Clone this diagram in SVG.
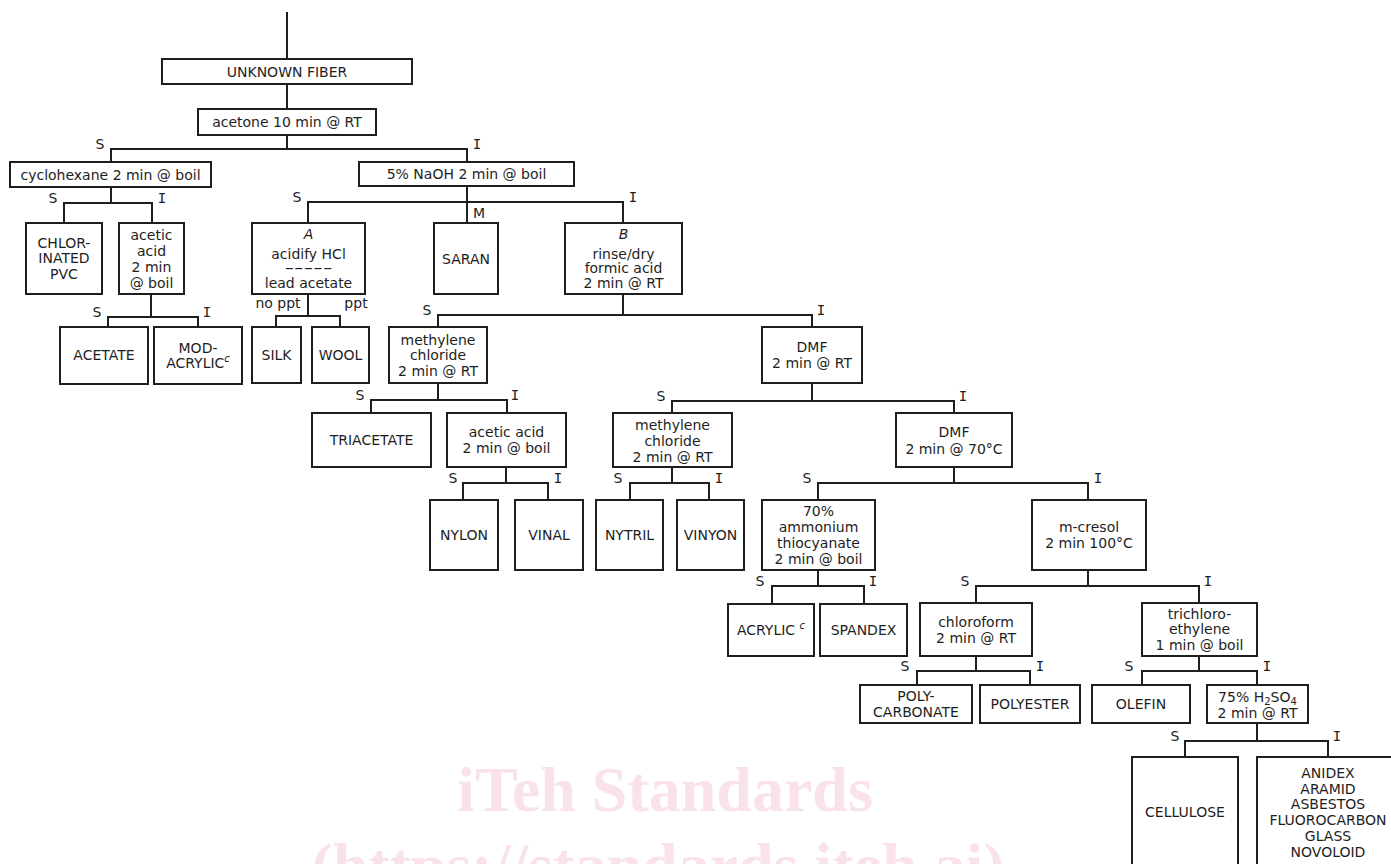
<svg xmlns="http://www.w3.org/2000/svg" width="1391" height="864" viewBox="0 0 1391 864">
<style>
.box{fill:#fff;stroke:#1e1e1e;stroke-width:2}
.ln{fill:none;stroke:#1e1e1e;stroke-width:2}
.t{font-family:"DejaVu Sans",Verdana,sans-serif;font-size:14px;text-anchor:middle;fill:#1e1e1e}
.it{font-style:italic}
.lb{font-family:"DejaVu Sans",Verdana,sans-serif;font-size:14px;text-anchor:middle;fill:#1e1e1e}
.lbi{font-family:"DejaVu Sans Mono",monospace;font-size:14px;text-anchor:middle;fill:#1e1e1e}
.wm{font-family:"Liberation Serif","Times New Roman",serif;font-weight:bold;font-size:64px;text-anchor:middle;fill:#f9e2e9}
</style>
<rect width="1391" height="864" fill="#fff"/>
<g id="watermark">
<text class="wm" x="665" y="811">iTeh Standards</text>
<text class="wm" x="658" y="887">(https://standards.iteh.ai)</text>
</g>
<g id="connectors">
<path class="ln" d="M287 12V59M287 84V109M287 135V149M111 162V149H467V162"/>
<path class="ln" d="M111 187V203M64 223V203H152V223"/>
<path class="ln" d="M151 294V317M108 327V317H198V327"/>
<path class="ln" d="M467 186V223M308 223V202H623V223"/>
<path class="ln" d="M308 294V316M276 327V316H340V327"/>
<path class="ln" d="M623 294V315M438 327V315H812V327"/>
<path class="ln" d="M438 383V400M371 413V400H507V413"/>
<path class="ln" d="M506 467V483M463 500V483H548V500"/>
<path class="ln" d="M812 383V401M672 413V401H954V413"/>
<path class="ln" d="M672 467V483M630 500V483H709V500"/>
<path class="ln" d="M954 467V483M818 500V483H1088V500"/>
<path class="ln" d="M818 570V586M772 604V586H864V604"/>
<path class="ln" d="M1088 570V586M976 603V586H1199V603"/>
<path class="ln" d="M976 656V671M917 685V671H1030V685"/>
<path class="ln" d="M1199 656V671M1142 685V671H1257V685"/>
<path class="ln" d="M1257 723V741M1185 757V741H1328V757"/>
<text class="lb" x="100" y="149">S</text><text class="lbi" x="477" y="149">I</text>
<text class="lb" x="53" y="203">S</text><text class="lbi" x="162" y="203">I</text>
<text class="lb" x="97" y="317">S</text><text class="lbi" x="207" y="317">I</text>
<text class="lb" x="297" y="202">S</text><text class="lbi" x="633" y="202">I</text><text class="lb" x="479" y="218">M</text>
<text class="lb" x="278" y="308">no ppt</text><text class="lb" x="356" y="308">ppt</text>
<text class="lb" x="427" y="315">S</text><text class="lbi" x="821" y="315">I</text>
<text class="lb" x="360" y="400">S</text><text class="lbi" x="515" y="400">I</text>
<text class="lb" x="453" y="483">S</text><text class="lbi" x="558" y="483">I</text>
<text class="lb" x="661" y="401">S</text><text class="lbi" x="963" y="401">I</text>
<text class="lb" x="618" y="483">S</text><text class="lbi" x="719" y="483">I</text>
<text class="lb" x="807" y="483">S</text><text class="lbi" x="1098" y="483">I</text>
<text class="lb" x="760" y="586">S</text><text class="lbi" x="873" y="586">I</text>
<text class="lb" x="965" y="586">S</text><text class="lbi" x="1208" y="586">I</text>
<text class="lb" x="905" y="671">S</text><text class="lbi" x="1040" y="671">I</text>
<text class="lb" x="1129" y="671">S</text><text class="lbi" x="1267" y="671">I</text>
<text class="lb" x="1175" y="741">S</text><text class="lbi" x="1337" y="741">I</text>
</g>
<g id="unknown"><rect class="box" x="162" y="59" width="250" height="25"/><text class="t" x="287" y="77">UNKNOWN FIBER</text></g>
<g id="acetone"><rect class="box" x="198" y="109" width="178" height="26"/><text class="t" x="287" y="127">acetone 10 min @ RT</text></g>
<g id="cyclohexane"><rect class="box" x="10" y="162" width="201" height="25"/><text class="t" x="110.5" y="180">cyclohexane 2 min @ boil</text></g>
<g id="naoh"><rect class="box" x="359" y="162" width="215" height="24"/><text class="t" x="466.5" y="179">5% NaOH 2 min @ boil</text></g>
<g id="chlorinated-pvc"><rect class="box" x="26" y="223" width="76" height="71"/><text class="t" x="64" y="248">CHLOR-</text><text class="t" x="64" y="263">INATED</text><text class="t" x="64" y="279">PVC</text></g>
<g id="acetic-acid-1"><rect class="box" x="119" y="223" width="65" height="71"/><text class="t" x="151.5" y="240">acetic</text><text class="t" x="151.5" y="256">acid</text><text class="t" x="151.5" y="272">2 min</text><text class="t" x="151.5" y="288">@ boil</text></g>
<g id="box-a"><rect class="box" x="252" y="223" width="113" height="71"/><text class="t it" x="308.5" y="239">A</text><text class="t" x="308.5" y="259">acidify HCl</text><text class="t" transform="translate(308.5 273) scale(1.9 1)" x="0" y="0">-----</text><text class="t" x="308.5" y="288">lead acetate</text></g>
<g id="saran"><rect class="box" x="434" y="223" width="64" height="71"/><text class="t" x="466" y="264">SARAN</text></g>
<g id="box-b"><rect class="box" x="565" y="223" width="117" height="71"/><text class="t it" x="623.5" y="239">B</text><text class="t" x="623.5" y="259">rinse/dry</text><text class="t" x="623.5" y="273">formic acid</text><text class="t" x="623.5" y="288">2 min @ RT</text></g>
<g id="acetate"><rect class="box" x="60" y="327" width="88" height="57"/><text class="t" x="104" y="360">ACETATE</text></g>
<g id="modacrylic"><rect class="box" x="154" y="327" width="88" height="57"/><text class="t" x="198" y="353">MOD-</text><text class="t" x="198" y="368">ACRYLIC<tspan class="it" font-size="10" dy="-6">c</tspan></text></g>
<g id="silk"><rect class="box" x="252" y="327" width="49" height="56"/><text class="t" x="276.5" y="360">SILK</text></g>
<g id="wool"><rect class="box" x="312" y="327" width="57" height="56"/><text class="t" x="340.5" y="360">WOOL</text></g>
<g id="methylene-chloride-1"><rect class="box" x="389" y="327" width="98" height="56"/><text class="t" x="438" y="345">methylene</text><text class="t" x="438" y="360">chloride</text><text class="t" x="438" y="376">2 min @ RT</text></g>
<g id="dmf-rt"><rect class="box" x="762" y="327" width="100" height="56"/><text class="t" x="812" y="352">DMF</text><text class="t" x="812" y="368">2 min @ RT</text></g>
<g id="triacetate"><rect class="box" x="312" y="413" width="119" height="54"/><text class="t" x="371.5" y="445">TRIACETATE</text></g>
<g id="acetic-acid-2"><rect class="box" x="447" y="413" width="119" height="54"/><text class="t" x="506.5" y="437">acetic acid</text><text class="t" x="506.5" y="453">2 min @ boil</text></g>
<g id="methylene-chloride-2"><rect class="box" x="613" y="413" width="119" height="54"/><text class="t" x="672.5" y="430">methylene</text><text class="t" x="672.5" y="446">chloride</text><text class="t" x="672.5" y="462">2 min @ RT</text></g>
<g id="dmf-70"><rect class="box" x="896" y="413" width="116" height="54"/><text class="t" x="954" y="437">DMF</text><text class="t" x="954" y="454">2 min @ 70°C</text></g>
<g id="nylon"><rect class="box" x="430" y="500" width="68" height="70"/><text class="t" x="464" y="540">NYLON</text></g>
<g id="vinal"><rect class="box" x="515" y="500" width="68" height="70"/><text class="t" x="549" y="540">VINAL</text></g>
<g id="nytril"><rect class="box" x="596" y="500" width="67" height="70"/><text class="t" x="629.5" y="540">NYTRIL</text></g>
<g id="vinyon"><rect class="box" x="677" y="500" width="67" height="70"/><text class="t" x="710.5" y="540">VINYON</text></g>
<g id="ammonium-thiocyanate"><rect class="box" x="762" y="500" width="113" height="70"/><text class="t" x="818.5" y="516">70%</text><text class="t" x="818.5" y="532">ammonium</text><text class="t" x="818.5" y="548">thiocyanate</text><text class="t" x="818.5" y="564">2 min @ boil</text></g>
<g id="m-cresol"><rect class="box" x="1032" y="500" width="114" height="70"/><text class="t" x="1089" y="532">m-cresol</text><text class="t" x="1089" y="548">2 min 100°C</text></g>
<g id="acrylic"><rect class="box" x="728" y="604" width="86" height="52"/><text class="t" x="771" y="635">ACRYLIC <tspan class="it" font-size="10" dy="-6">c</tspan></text></g>
<g id="spandex"><rect class="box" x="820" y="604" width="87" height="52"/><text class="t" x="863.5" y="635">SPANDEX</text></g>
<g id="chloroform"><rect class="box" x="920" y="603" width="112" height="53"/><text class="t" x="976" y="627">chloroform</text><text class="t" x="976" y="643">2 min @ RT</text></g>
<g id="trichloroethylene"><rect class="box" x="1142" y="603" width="115" height="53"/><text class="t" x="1199.5" y="619">trichloro-</text><text class="t" x="1199.5" y="634">ethylene</text><text class="t" x="1199.5" y="650">1 min @ boil</text></g>
<g id="polycarbonate"><rect class="box" x="860" y="685" width="112" height="38"/><text class="t" x="916" y="701">POLY-</text><text class="t" x="916" y="717">CARBONATE</text></g>
<g id="polyester"><rect class="box" x="980" y="685" width="100" height="38"/><text class="t" x="1030" y="709">POLYESTER</text></g>
<g id="olefin"><rect class="box" x="1092" y="685" width="98" height="38"/><text class="t" x="1141" y="709">OLEFIN</text></g>
<g id="sulfuric-acid"><rect class="box" x="1207" y="685" width="101" height="38"/><text class="t" x="1257.5" y="702">75% H<tspan font-size="10" dy="3">2</tspan><tspan dy="-3">SO</tspan><tspan font-size="10" dy="3">4</tspan></text><text class="t" x="1257.5" y="718">2 min @ RT</text></g>
<g id="cellulose"><rect class="box" x="1132" y="757" width="106" height="115"/><text class="t" x="1185" y="817">CELLULOSE</text></g>
<g id="others"><rect class="box" x="1257" y="757" width="145" height="115"/><text class="t" x="1328" y="778">ANIDEX</text><text class="t" x="1328" y="794">ARAMID</text><text class="t" x="1328" y="809">ASBESTOS</text><text class="t" x="1328" y="825">FLUOROCARBON</text><text class="t" x="1328" y="841">GLASS</text><text class="t" x="1328" y="857">NOVOLOID</text></g>
</svg>
